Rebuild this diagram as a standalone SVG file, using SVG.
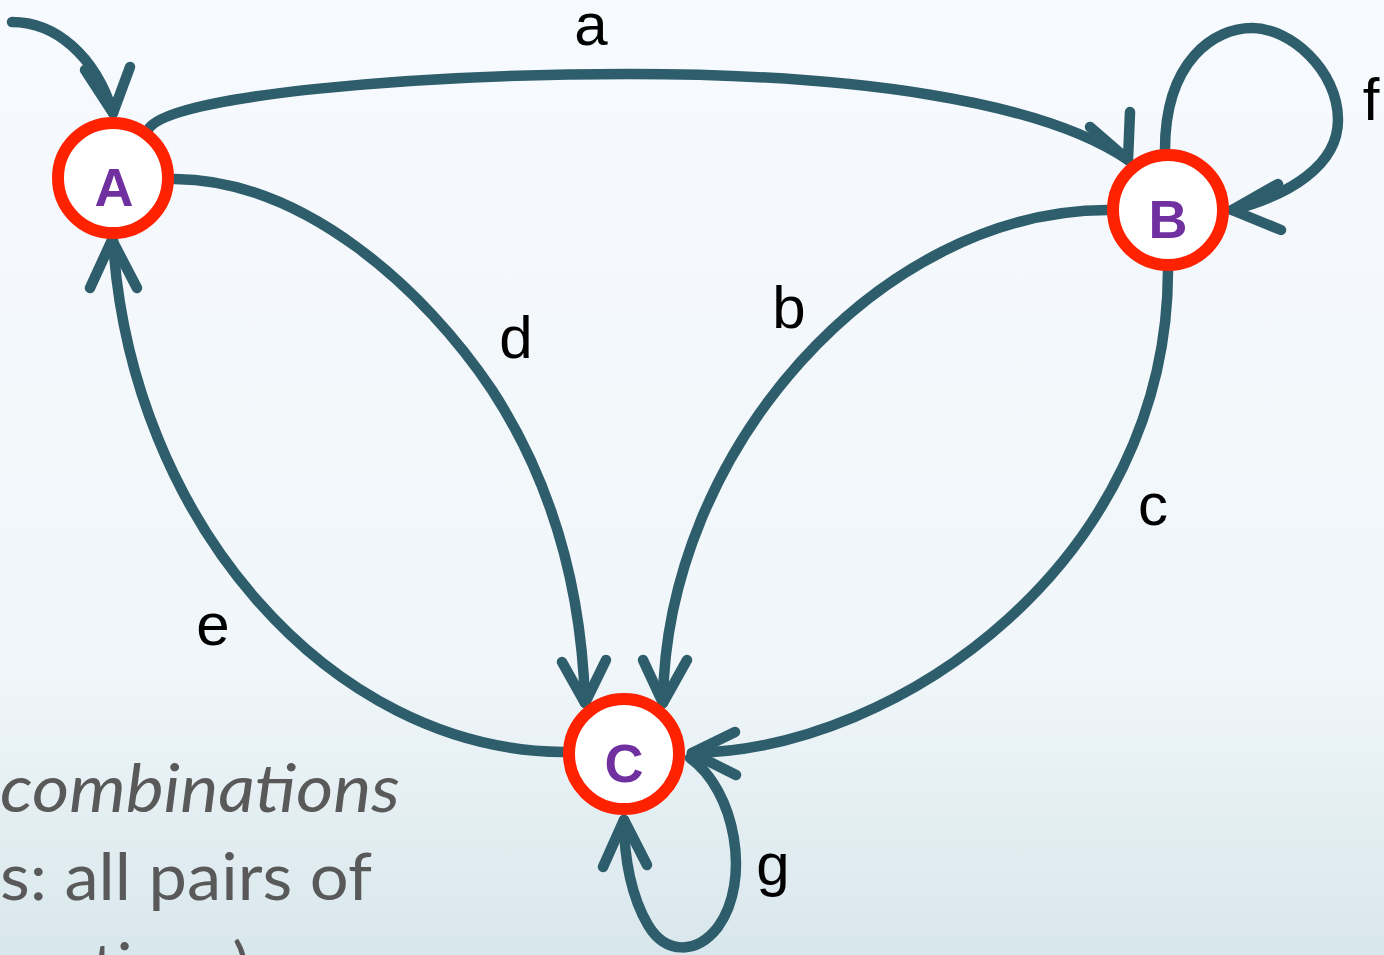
<svg xmlns="http://www.w3.org/2000/svg" width="1384" height="955" viewBox="0 0 1384 955">
<defs>
<linearGradient id="bg" x1="0" y1="0" x2="0" y2="1">
<stop offset="0" stop-color="#f7fafe"/>
<stop offset="0.7" stop-color="#f0f6f9"/>
<stop offset="1" stop-color="#d8e7ec"/>
</linearGradient>
<style>
.edge{fill:none;stroke:#2e5d6b;stroke-width:10.5;stroke-linecap:round;stroke-linejoin:round}
.node circle{fill:#ffffff;stroke:#ff2200;stroke-width:12}
.node text{font-family:"Liberation Sans",Arial,sans-serif;font-weight:bold;font-size:54px;fill:#7030a0;text-anchor:middle}
.lbl{font-family:"Liberation Sans",Arial,sans-serif;font-size:60px;fill:#000000;text-anchor:middle}
.body{font-family:Lato,"Open Sans",sans-serif;font-size:66px;fill:#595959}
</style>
</defs>
<rect x="0" y="0" width="1384" height="955" fill="url(#bg)"/>
<g id="background-text">
<text class="body" x="0" y="812" font-style="italic" textLength="400" lengthAdjust="spacingAndGlyphs">combinations</text>
<text class="body" x="0" y="900" textLength="372" lengthAdjust="spacingAndGlyphs">s: all pairs of</text>
<text class="body" x="60" y="990" textLength="190" lengthAdjust="spacingAndGlyphs">ations)</text>
</g>
<g id="connectors">
<path class="edge" d="M12,22 C55,22 95,55 113,113"/>
<path class="edge" d="M85,70 L113,113 L130,67"/>
<path class="edge" d="M148,130 C165,95 420,74 630,74 C850,74 1040,100 1128,160"/>
<path class="edge" d="M1130,112 L1128,160 L1090,127"/>
<path class="edge" d="M175,179 C305,180 425,290 492,390 C557,490 582,600 585,703"/>
<path class="edge" d="M562,662 L585,703 L606,660"/>
<path class="edge" d="M563,752 C330,750 130,520 113,240"/>
<path class="edge" d="M90,288 L112,240 L137,288"/>
<path class="edge" d="M1108,210 C880,210 665,450 663,703"/>
<path class="edge" d="M643,660 L663,703 L687,660"/>
<path class="edge" d="M1168,270 C1168,560 900,750 692,753"/>
<path class="edge" d="M735,732 L692,753 L736,775"/>
<path class="edge" d="M1165,150 C1165,60 1215,28 1252,28 C1290,28 1338,70 1338,120 C1338,165 1290,195 1232,210"/>
<path class="edge" d="M1278,184 L1232,210 L1281,230"/>
<path class="edge" d="M690,758 C735,790 752,880 718,927 C697,954 666,955 648,925 C632,898 624,860 624,820"/>
<path class="edge" d="M603,867 L624,820 L647,865"/>
</g>
<g id="labels">
<text class="lbl" x="591" y="45">a</text>
<text class="lbl" x="1371" y="120">f</text>
<text class="lbl" x="789" y="328">b</text>
<text class="lbl" x="516" y="358">d</text>
<text class="lbl" x="1153" y="525">c</text>
<text class="lbl" x="213" y="645">e</text>
<text class="lbl" x="773" y="885">g</text>
</g>
<g id="node-A" class="node">
<circle cx="113" cy="178" r="55"/>
<text x="114" y="206">A</text>
</g>
<g id="node-B" class="node">
<circle cx="1168" cy="210" r="55"/>
<text x="1168" y="238">B</text>
</g>
<g id="node-C" class="node">
<circle cx="624" cy="754" r="55"/>
<text x="624" y="782">C</text>
</g>
</svg>
